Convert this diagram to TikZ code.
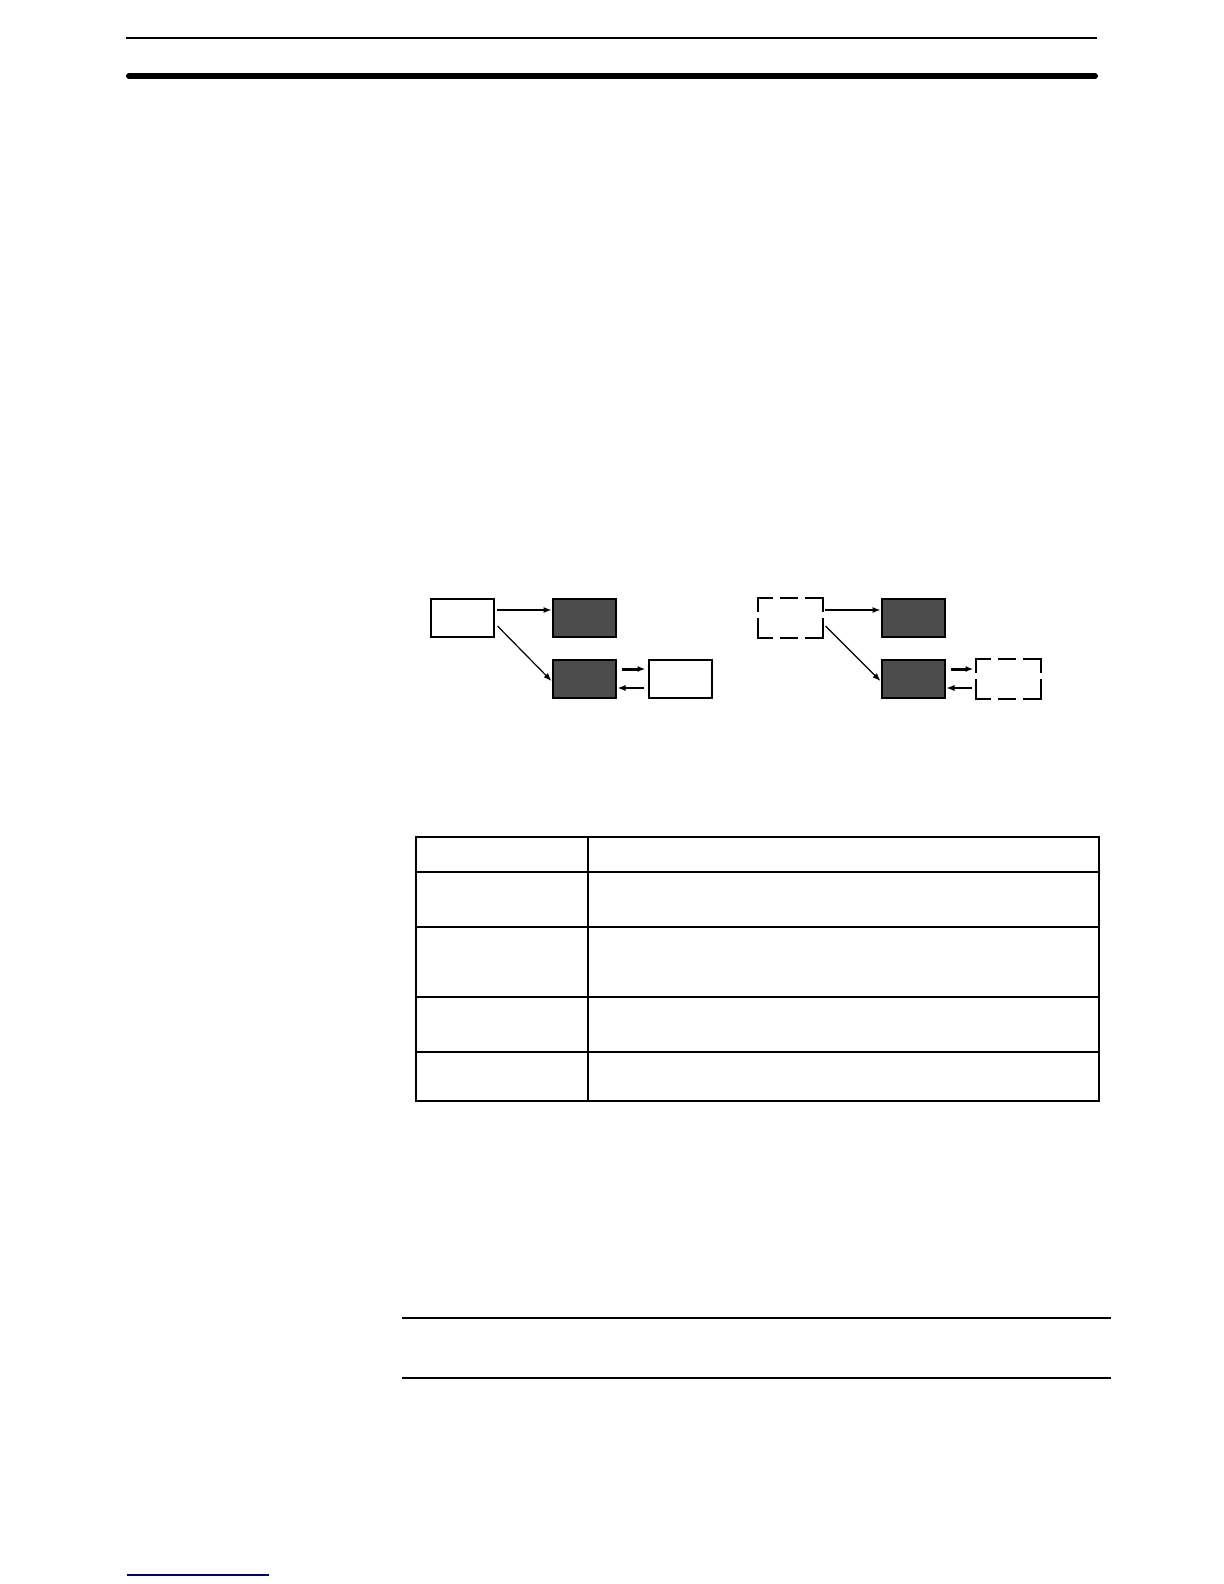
\documentclass[tikz,border=0pt]{standalone}
\usepackage{tikz}
\usetikzlibrary{positioning,arrows.meta}

\begin{document}
\begin{tikzpicture}[x=0.5pt,y=-0.5pt,>={Latex[length=4pt,width=3pt]},
        unit node/.style={rectangle, draw, line width=1pt, fill=white,
        inner sep=0pt, minimum width=31.5pt, minimum height=19pt},
        cpu node/.style={unit node, fill=black!70},
        ghost node/.style={unit node, draw=none},
        hdash/.style={line width=1pt, line cap=rect,
        dash pattern=on 7pt off 4.5pt on 8pt off 4.5pt on 7.5pt off 0pt},
        vdash/.style={line width=1pt, line cap=rect,
        dash pattern=on 6.5pt off 4pt on 8.5pt off 0pt},
        thin link/.style={->, line width=0.6pt},
        thick link/.style={->, line width=1.5pt}
        ]

        \useasboundingbox (0,0) rectangle (1224,1584);

        % page rules
        \draw[line width=1pt] (126,38) -- (1097,38);
        \draw[line width=3pt, line cap=round] (129,76) -- (1095,76);

        % left group
        \node [unit node] (a1) at (462,618) {};
        \node [cpu node] (b1) [right = 28.5pt of a1] {};
        \node [cpu node] (c1) [below = 10.5pt of b1] {};
        \node [unit node] (d1) [right = 15.5pt of c1] {};

        % right group
        \node [ghost node] (a2) at (790,618) {};
        \node [cpu node] (b2) [right = 29pt of a2] {};
        \node [cpu node] (c2) [below = 10.5pt of b2] {};
        \node [ghost node] (d2) [right = 15pt of c2] {};

        % dashed frames
        \foreach \n in {a2,d2} {
          \draw [hdash] (\n.north west) -- (\n.north east);
          \draw [hdash] (\n.south west) -- (\n.south east);
          \draw [vdash] (\n.north west) -- (\n.south west);
          \draw [vdash] (\n.north east) -- (\n.south east);
        }

        \foreach \g in {1,2} {
          \draw [thin link] ([xshift=1pt,yshift=4pt]a\g.east) -- ([yshift=4pt]b\g.west);
          \draw [thin link] ([xshift=1.5pt,yshift=-4pt]a\g.east) -- ([yshift=-1pt]c\g.west);
          \draw [thick link] ([xshift=2.5pt,yshift=5pt]c\g.east) -- ([xshift=-1pt,yshift=5pt]d\g.west);
          \draw [thin link] ([xshift=-2pt,yshift=-4.5pt]d\g.west) -- ([xshift=0.5pt,yshift=-4.5pt]c\g.east);
        }

        % table
        \draw[line width=1.4pt] (416,837) rectangle (1099,1101);
        \draw[line width=1.2pt] (416,872) -- (1099,872);
        \foreach \y in {927,997,1052}
          \draw[line width=0.6pt] (416,\y) -- (1099,\y);
        \draw[line width=0.6pt] (588,837) -- (588,1101);

        % note rules
        \draw[line width=0.6pt] (402,1318) -- (1111,1318);
        \draw[line width=0.6pt] (402,1378) -- (1111,1378);

        % footer rule
        \draw[line width=0.8pt, blue!50!black] (127,1575) -- (269,1575);
     \end{tikzpicture}
\end{document}
